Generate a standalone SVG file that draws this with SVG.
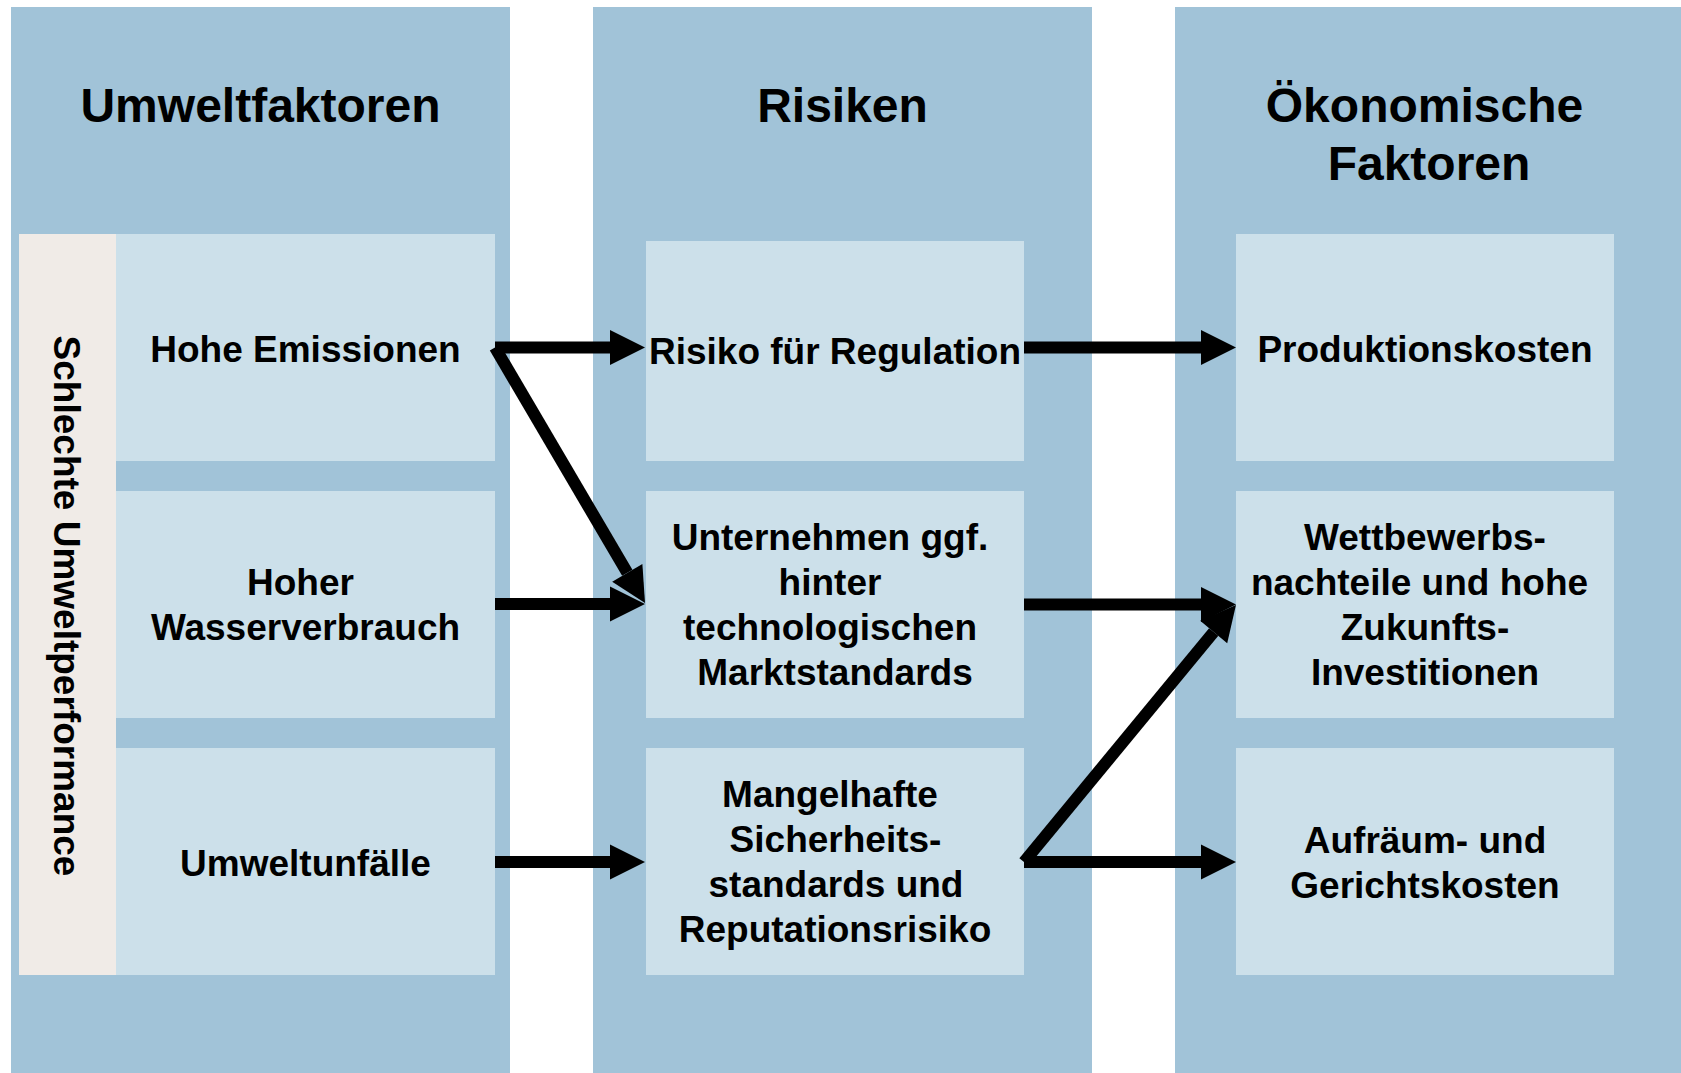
<svg xmlns="http://www.w3.org/2000/svg" width="1681" height="1073" viewBox="0 0 1681 1073">
<style>
.col{fill:#A1C3D8}
.box{fill:#CCE0EA}
.side{fill:#F0EBE7}
.t{font-family:"Liberation Sans",Arial,sans-serif;font-weight:bold;fill:#000;text-anchor:middle}
.h{font-size:48px}
.n{font-size:37px}
.c{stroke:#000;stroke-width:12;fill:none;stroke-linecap:butt}
</style>
<defs>
<marker id="ah" markerUnits="userSpaceOnUse" markerWidth="35" markerHeight="35" refX="0" refY="17.5" orient="auto" overflow="visible">
<path d="M0,0 L35,17.5 L0,35 Z" fill="#000"/>
</marker>
</defs>
<rect width="1681" height="1073" fill="#fff"/>
<g id="col-umwelt">
<rect class="col" x="11" y="7" width="499" height="1066"/>
<text class="t h" x="260.5" y="122">Umweltfaktoren</text>
</g>
<g id="col-risiken">
<rect class="col" x="593" y="7" width="499" height="1066"/>
<text class="t h" x="842.5" y="122">Risiken</text>
</g>
<g id="col-oekonomisch">
<rect class="col" x="1175" y="7" width="506" height="1066"/>
<text class="t h" x="1424.5" y="122">Ökonomische</text>
<text class="t h" x="1429" y="180">Faktoren</text>
</g>
<g id="side-label">
<rect class="side" x="19" y="234" width="97" height="741"/>
<text class="t n" transform="translate(54,606) rotate(90)" x="0" y="0">Schlechte Umweltperformance</text>
</g>
<g id="n-emissionen">
<rect class="box" x="116" y="234" width="379" height="227"/>
<text class="t n" x="305.5" y="362">Hohe Emissionen</text>
</g>
<g id="n-wasser">
<rect class="box" x="116" y="491" width="379" height="227"/>
<text class="t n" x="300.5" y="595">Hoher</text>
<text class="t n" x="305.5" y="640">Wasserverbrauch</text>
</g>
<g id="n-unfaelle">
<rect class="box" x="116" y="748" width="379" height="227"/>
<text class="t n" x="305.5" y="876">Umweltunfälle</text>
</g>
<g id="n-regulation">
<rect class="box" x="646" y="241" width="378" height="220"/>
<text class="t n" x="835" y="364">Risiko für Regulation</text>
</g>
<g id="n-markt">
<rect class="box" x="646" y="491" width="378" height="227"/>
<text class="t n" x="830" y="550">Unternehmen ggf.</text>
<text class="t n" x="830" y="595">hinter</text>
<text class="t n" x="830" y="640">technologischen</text>
<text class="t n" x="835" y="685">Marktstandards</text>
</g>
<g id="n-sicherheit">
<rect class="box" x="646" y="748" width="378" height="227"/>
<text class="t n" x="830" y="807">Mangelhafte</text>
<text class="t n" x="835.5" y="852">Sicherheits-</text>
<text class="t n" x="836" y="897">standards und</text>
<text class="t n" x="835" y="942">Reputationsrisiko</text>
</g>
<g id="n-produktion">
<rect class="box" x="1236" y="234" width="378" height="227"/>
<text class="t n" x="1425" y="362">Produktionskosten</text>
</g>
<g id="n-wettbewerb">
<rect class="box" x="1236" y="491" width="378" height="227"/>
<text class="t n" x="1425" y="550">Wettbewerbs-</text>
<text class="t n" x="1419.5" y="595">nachteile und hohe</text>
<text class="t n" x="1425" y="640">Zukunfts-</text>
<text class="t n" x="1425" y="685">Investitionen</text>
</g>
<g id="n-gericht">
<rect class="box" x="1236" y="748" width="378" height="227"/>
<text class="t n" x="1425" y="853">Aufräum- und</text>
<text class="t n" x="1425" y="898">Gerichtskosten</text>
</g>
<g id="connectors">
<line class="c" x1="495" y1="347.5" x2="610" y2="347.5" marker-end="url(#ah)"/>
<line class="c" x1="495" y1="347.5" x2="627.3" y2="572.8" marker-end="url(#ah)"/>
<line class="c" x1="495" y1="604" x2="610" y2="604" marker-end="url(#ah)"/>
<line class="c" x1="495" y1="862" x2="610" y2="862" marker-end="url(#ah)"/>
<line class="c" x1="1024" y1="347.5" x2="1201" y2="347.5" marker-end="url(#ah)"/>
<line class="c" x1="1024" y1="604.5" x2="1201" y2="604.5" marker-end="url(#ah)"/>
<line class="c" x1="1024" y1="862" x2="1213.7" y2="632" marker-end="url(#ah)"/>
<line class="c" x1="1024" y1="862" x2="1201" y2="862" marker-end="url(#ah)"/>
</g>
</svg>
